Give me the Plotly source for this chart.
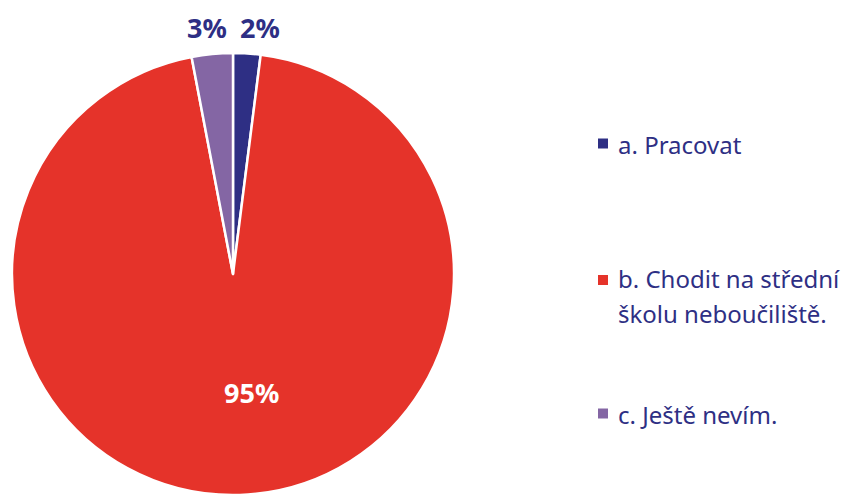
import plotly.graph_objs as go

labels = ["a. Pracovat", "b. Chodit na střední<br>školu neboučiliště.", "c. Ještě nevím."]
values = [2, 95, 3]
colors = ["#2E2F84", "#E5332A", "#8466A4"]
text_colors = ["#2E2F84", "#FFFFFF", "#2E2F84"]

W, H = 842, 495
FONT = "Noto Sans"
NAVY = "#2E2F84"

pie = go.Pie(
    labels=labels, values=values, sort=False, direction="clockwise", rotation=0,
    marker=dict(colors=colors, line=dict(color="white", width=2.5)),
    textinfo="none",
    domain=dict(x=[12 / W, 454 / W], y=[0, 1 - 53 / H]),
    showlegend=False, hoverinfo="label+percent",
)

fig = go.Figure(pie)

# percentage labels, placed like in the original slide
pct_xy = [(260, 27), (251, 392), (207, 27)]
annotations = []
total = sum(values)
for v, tc, (px, py) in zip(values, text_colors, pct_xy):
    annotations.append(dict(xref="paper", yref="paper", x=px / W, y=1 - py / H,
                            xanchor="center", yanchor="middle", showarrow=False,
                            text="<b>%d%%</b>" % round(v / total * 100),
                            font=dict(family=FONT, size=27, color=tc)))

# legend drawn by hand to get the wide spacing between items
sq_y = [143.5, 280, 413.5]      # square centres (px from top)
base_y = [153, 287, 423]        # baseline of first text line
line_gap = 35
shapes = []
for lab, col, sy, by in zip(labels, colors, sq_y, base_y):
    shapes.append(dict(type="rect", xref="paper", yref="paper",
                       x0=598 / W, x1=608 / W, y0=1 - (sy + 5) / H, y1=1 - (sy - 5) / H,
                       fillcolor=col, line=dict(width=0)))
    for i, line in enumerate(lab.split("<br>")):
        yy = by + i * line_gap - 8.5
        annotations.append(dict(xref="paper", yref="paper", x=616 / W, y=1 - yy / H,
                                xanchor="left", yanchor="middle", align="left", showarrow=False,
                                text=line, font=dict(family=FONT, size=24, color=NAVY)))

fig.update_layout(
    width=W, height=H, margin=dict(l=0, r=0, t=0, b=0),
    paper_bgcolor="white", plot_bgcolor="white",
    shapes=shapes, annotations=annotations,
)
fig.write_html("out.html", config={"displayModeBar": False},
               post_script="document.body.style.margin='0';")
